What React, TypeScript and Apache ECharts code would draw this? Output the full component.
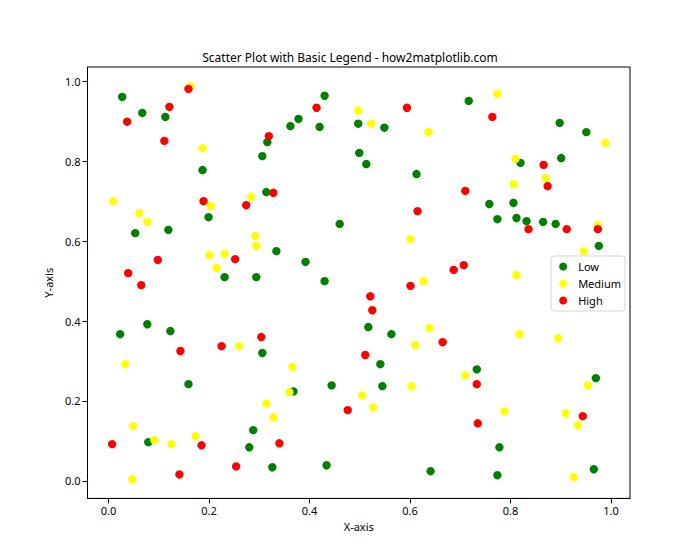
import React, { useEffect, useRef } from "react";
import * as echarts from "echarts";

const title = "Scatter Plot with Basic Legend - how2matplotlib.com";
const xAxisName = "X-axis";
const yAxisName = "Y-axis";
const tickValues = [0, 0.2, 0.4, 0.6, 0.8, 1.0];
const seriesNames = ["Low", "Medium", "High"];
const seriesColors = ["green", "yellow", "red"];

const lowX = [0.027, 0.067, 0.113, 0.187, 0.199, 0.053, 0.119, 0.231, 0.294, 0.316, 0.306, 0.314, 0.430, 0.378, 0.362, 0.420, 0.497, 0.549, 0.499, 0.513, 0.613, 0.460, 0.334, 0.392, 0.430, 0.717, 0.898, 0.951, 0.820, 0.901, 0.758, 0.806, 0.774, 0.812, 0.832, 0.865, 0.890, 0.976, 0.077, 0.023, 0.123, 0.306, 0.159, 0.288, 0.079, 0.280, 0.517, 0.563, 0.541, 0.368, 0.444, 0.545, 0.326, 0.434, 0.641, 0.733, 0.970, 0.778, 0.774, 0.966];
const lowY = [0.961, 0.921, 0.911, 0.778, 0.660, 0.620, 0.628, 0.510, 0.510, 0.848, 0.813, 0.723, 0.964, 0.906, 0.888, 0.886, 0.894, 0.884, 0.821, 0.793, 0.768, 0.643, 0.575, 0.548, 0.500, 0.951, 0.896, 0.873, 0.796, 0.808, 0.693, 0.696, 0.655, 0.658, 0.650, 0.648, 0.643, 0.588, 0.392, 0.367, 0.375, 0.320, 0.242, 0.127, 0.097, 0.084, 0.385, 0.367, 0.292, 0.224, 0.239, 0.237, 0.034, 0.039, 0.024, 0.279, 0.257, 0.084, 0.014, 0.029];

const mediumX = [0.163, 0.187, 0.009, 0.203, 0.061, 0.077, 0.284, 0.292, 0.294, 0.201, 0.231, 0.215, 0.497, 0.523, 0.637, 0.601, 0.627, 0.774, 0.989, 0.810, 0.870, 0.806, 0.974, 0.946, 0.812, 0.260, 0.033, 0.314, 0.049, 0.091, 0.125, 0.173, 0.047, 0.639, 0.611, 0.366, 0.360, 0.603, 0.505, 0.527, 0.328, 0.818, 0.895, 0.710, 0.954, 0.788, 0.910, 0.934, 0.926];
const mediumY = [0.988, 0.833, 0.700, 0.688, 0.670, 0.648, 0.711, 0.613, 0.588, 0.565, 0.568, 0.533, 0.927, 0.894, 0.873, 0.605, 0.500, 0.969, 0.846, 0.806, 0.758, 0.743, 0.640, 0.575, 0.515, 0.337, 0.292, 0.194, 0.137, 0.102, 0.092, 0.112, 0.004, 0.382, 0.340, 0.285, 0.222, 0.237, 0.214, 0.184, 0.159, 0.367, 0.357, 0.264, 0.239, 0.174, 0.169, 0.139, 0.009];

const highX = [0.159, 0.037, 0.121, 0.111, 0.189, 0.274, 0.098, 0.252, 0.039, 0.319, 0.414, 0.594, 0.328, 0.615, 0.764, 0.866, 0.874, 0.710, 0.836, 0.912, 0.974, 0.707, 0.687, 0.065, 0.143, 0.225, 0.304, 0.007, 0.185, 0.254, 0.141, 0.601, 0.521, 0.525, 0.665, 0.511, 0.476, 0.340, 0.733, 0.735, 0.944];
const highY = [0.981, 0.899, 0.936, 0.851, 0.700, 0.690, 0.553, 0.555, 0.520, 0.863, 0.934, 0.934, 0.721, 0.675, 0.911, 0.791, 0.738, 0.726, 0.630, 0.630, 0.630, 0.540, 0.528, 0.490, 0.325, 0.337, 0.360, 0.092, 0.089, 0.036, 0.016, 0.488, 0.462, 0.427, 0.347, 0.315, 0.177, 0.094, 0.242, 0.144, 0.162];

const xs = [lowX, mediumX, highX];
const ys = [lowY, mediumY, highY];

const FONT = "Noto Sans";

export default function App() {
  const ref = useRef<HTMLDivElement>(null);
  useEffect(() => {
    document.body.style.margin = "0";
    if (!ref.current) return;
    const chart = echarts.init(ref.current, null, { renderer: "svg" });
    const axisCommon = {
      type: "value" as const,
      min: -0.042,
      max: 1.038,
      splitLine: { show: false },
      axisLine: { show: true, onZero: false, lineStyle: { color: "#000", width: 1 } },
      axisTick: {
        show: true,
        customValues: tickValues,
        length: 5,
        lineStyle: { color: "#000", width: 1 },
      },
      axisLabel: {
        customValues: tickValues,
        formatter: (v: number) => v.toFixed(1),
        color: "#000",
        fontFamily: FONT,
        fontSize: 11,
        margin: 7,
      },
      nameLocation: "middle" as const,
      nameTextStyle: { color: "#000", fontFamily: FONT, fontSize: 11 },
    };
    chart.setOption({
      animation: false,
      backgroundColor: "#fff",
      title: {
        text: title,
        left: "center",
        top: 46,
        textStyle: { fontFamily: FONT, fontSize: 12, fontWeight: "normal", color: "#000" },
      },
      grid: {
        left: 87.5,
        right: 70,
        top: 67,
        bottom: 61.6,
        containLabel: false,
        outerBoundsMode: "none",
        show: true,
        borderColor: "#000",
        borderWidth: 1,
        backgroundColor: "transparent",
      },
      xAxis: { ...axisCommon, name: xAxisName, nameGap: 23 },
      yAxis: { ...axisCommon, min: -0.044, max: 1.036, name: yAxisName, nameGap: 26 },
      legend: {
        orient: "vertical",
        right: 75,
        top: 256,
        icon: "circle",
        itemWidth: 8,
        itemHeight: 8,
        itemGap: 4,
        padding: [4, 4, 4, 8],
        backgroundColor: "rgba(255,255,255,0.8)",
        borderColor: "#d5d5d5",
        borderWidth: 1,
        borderRadius: 3,
        textStyle: { fontFamily: FONT, fontSize: 11, color: "#000", padding: [0, 0, 0, 6], lineHeight: 13 },
        data: seriesNames,
      },
      series: seriesNames.map((name, i) => ({
        name,
        type: "scatter",
        symbol: "circle",
        symbolSize: 8.4,
        itemStyle: { color: seriesColors[i], opacity: 1 },
        data: xs[i].map((x, j) => [x, ys[i][j]]),
      })),
    });
    return () => chart.dispose();
  }, []);
  return <div ref={ref} style={{ width: 700, height: 560 }} />;
}
